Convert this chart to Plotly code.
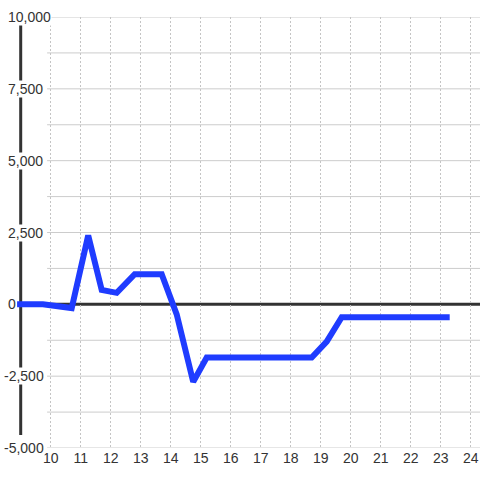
import plotly.graph_objects as go

x_vals = [8.88, 9.74, 10.7, 11.25, 11.7, 12.2, 12.8, 13.7, 14.2, 14.75, 15.2, 18.7, 19.2, 19.7, 23.3]
y_vals = [0, 0, -130, 2400, 500, 400, 1050, 1050, -350, -2700, -1850, -1850, -1300, -450, -450]
x_ticks = list(range(10, 25))
y_ticks = [-5000, -2500, 0, 2500, 5000, 7500, 10000]
y_grid = [-5000, -3750, -2500, -1250, 0, 1250, 2500, 3750, 5000, 6250, 7500, 8750, 10000]

X0, X1 = 8.31, 24.31
fig = go.Figure()
fig.add_trace(go.Scatter(x=x_vals, y=y_vals, mode="lines",
                         line=dict(color="#1f3cff", width=6), hoverinfo="skip"))

shapes = []
for g in y_grid:
    shapes.append(dict(type="line", xref="x", yref="y", x0=9.88, x1=X1 + 1, y0=g, y1=g,
                       line=dict(color="#cccccc", width=1), layer="below"))
shapes.append(dict(type="line", xref="x", yref="y", x0=9.0, x1=9.0, y0=-4550, y1=9750,
                   line=dict(color="#333333", width=3), layer="below"))
shapes.append(dict(type="line", xref="x", yref="y", x0=8.9, x1=X1 + 1, y0=0, y1=0,
                   line=dict(color="#333333", width=3), layer="below"))

annotations = []
for t in y_ticks:
    annotations.append(dict(x=0.0, xref="paper", y=t, yref="y",
                            xshift=7 if t >= 0 else 3,
                            text=f"{t:,}", showarrow=False, xanchor="left", yanchor="middle",
                            font=dict(family="Liberation Sans, Arial", size=14, color="#333333"),
                            bgcolor="white", borderpad=0))

fig.update_layout(
    width=480, height=480,
    margin=dict(l=0, r=0, t=17, b=32, autoexpand=False),
    paper_bgcolor="white", plot_bgcolor="white",
    showlegend=False,
    shapes=shapes, annotations=annotations,
    xaxis=dict(range=[X0, X1], tickvals=x_ticks, ticktext=[str(v) for v in x_ticks],
               showgrid=True, gridcolor="#c4c4c4", griddash="2px,2px", gridwidth=1,
               zeroline=False, showline=False, ticks="", automargin=False,
               tickfont=dict(family="Liberation Sans, Arial", size=14, color="#333333")),
    yaxis=dict(range=[-5000, 10000], showgrid=False, zeroline=False, showline=False,
               showticklabels=False, ticks="", automargin=False),
)
fig.write_html("out.html", config={"displayModeBar": False},
               post_script="document.body.style.margin='0';document.body.style.overflow='hidden';")
